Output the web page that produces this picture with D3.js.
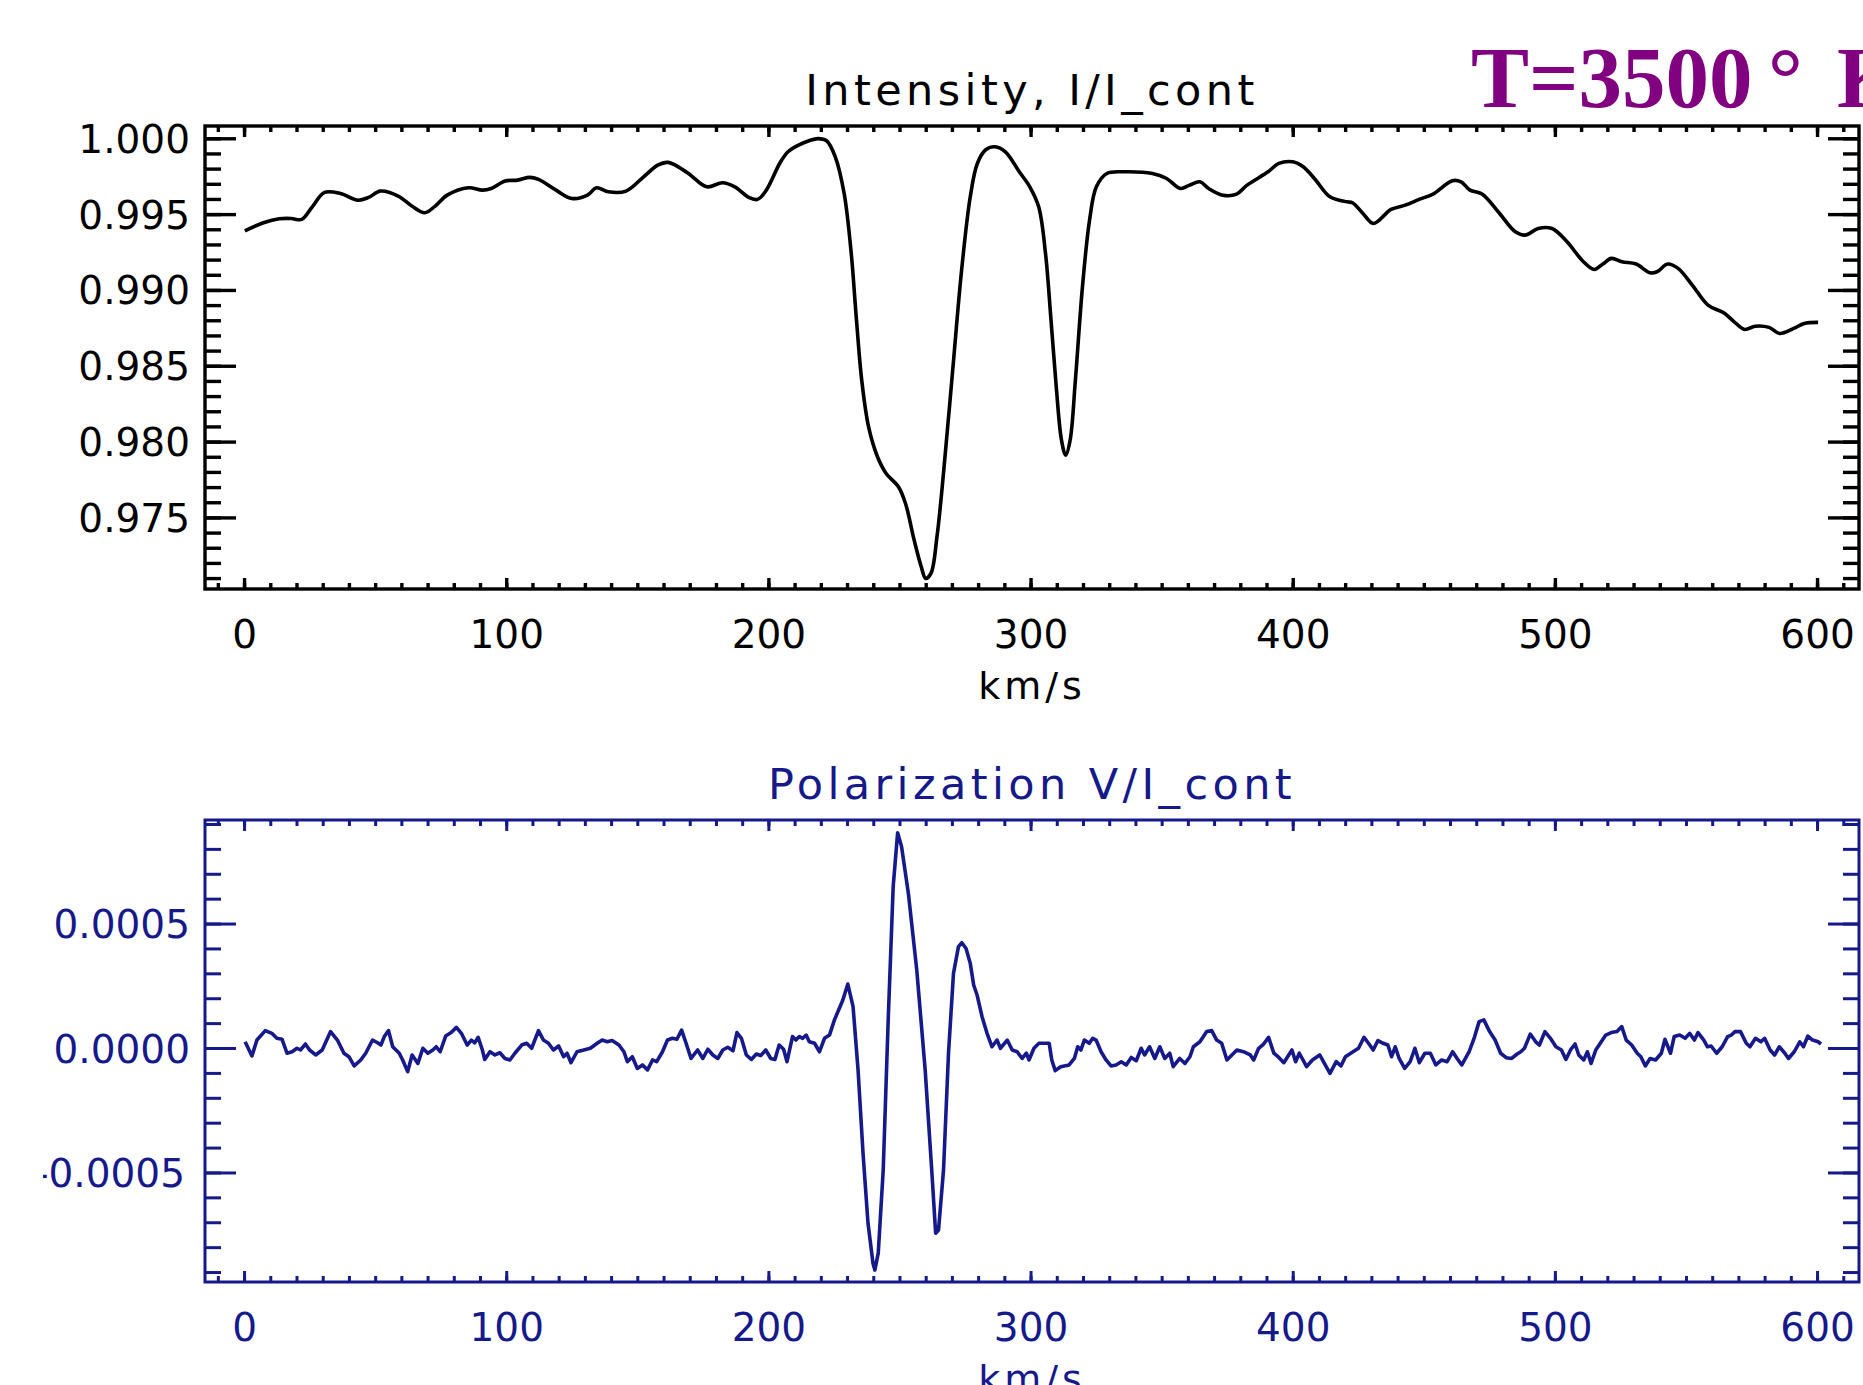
<!DOCTYPE html>
<html>
<head>
<meta charset="utf-8">
<script src="https://cdn.jsdelivr.net/npm/d3@7"></script>
<style>
  html, body { margin: 0; padding: 0; background: #fff; }
  svg { display: block; }
</style>
</head>
<body>
<div id="chart"></div>
<script>
// Intensity profile, I/I_cont against velocity (km/s)
const intensityKms = [
  0.3, 7.4, 13.4, 18, 22, 26, 30.7, 36.8, 43.4, 47.5, 52, 58.8, 64, 68.9, 72.9, 77.5,
  85.6, 90.9, 94.3, 99.6, 104.3, 109, 112.3, 119, 125, 131, 134.4, 139, 145.7, 152.4,
  157.8, 161.8, 169.1, 176.5, 182.5, 187.2, 192.5, 195.9, 199.2, 204.5, 207.5, 211.5,
  215.5, 218.9, 222.2, 225.5, 228.9, 231.6, 233.6, 235.6, 238.2, 241.6, 244.9, 249.6,
  252.3, 255.6, 258.3, 260, 262, 264.3, 266.9, 270.3, 273.7, 277, 279.7, 283, 286.4,
  290.4, 295.7, 299.7, 303.1, 305.7, 307.8, 309.8, 311.8, 313.4, 315.1, 317.1, 319.8,
  322.5, 325.1, 329.1, 335.8, 346.5, 351.9, 357.2, 360.6, 364.6, 367.9, 373.3, 378.6,
  382.6, 390.6, 394.7, 400, 404, 408.5, 414.2, 420.8, 422.8, 426.8, 430.8, 437.5,
  442.9, 448.2, 453.5, 460.9, 464.2, 467.6, 472.2, 478.9, 484.9, 488.9, 493.6, 498.9,
  504.3, 510.9, 515, 518.3, 521.6, 525.6, 531, 536.3, 539, 543, 547, 552.4, 558.4,
  564.4, 568.4, 572.4, 576.4, 581.7, 585.7, 591.1, 595.1, 600.4
];
const intensity = [
  0.99390, 0.99443, 0.99469, 0.99471, 0.99465, 0.99548, 0.99643, 0.99636, 0.99592, 0.99610,
  0.99652, 0.99619, 0.99553, 0.99509, 0.99553, 0.99625, 0.99674, 0.99658, 0.99669, 0.99718,
  0.99724, 0.99742, 0.99729, 0.99658, 0.99603, 0.99625, 0.99674, 0.99647, 0.99652, 0.99746,
  0.99823, 0.99841, 0.99773, 0.99680, 0.99707, 0.99680, 0.99610, 0.99597, 0.99658, 0.99840,
  0.99911, 0.99955, 0.99984, 0.99998, 0.99984, 0.99878, 0.99636, 0.99241, 0.98801, 0.98405,
  0.98098, 0.97900, 0.97790, 0.97702, 0.97592, 0.97350, 0.97175, 0.97098, 0.97131, 0.97372,
  0.97812, 0.98471, 0.99131, 0.99614, 0.99834, 0.99926, 0.99944, 0.99911, 0.99779, 0.99680,
  0.99548, 0.99241, 0.98801, 0.98361, 0.98010, 0.97911, 0.98010, 0.98405, 0.99021, 0.99460,
  0.99680, 0.99768, 0.99779, 0.99768, 0.99735, 0.99669, 0.99691, 0.99713, 0.99669, 0.99625,
  0.99632, 0.99691, 0.99779, 0.99834, 0.99845, 0.99812, 0.99730, 0.99614, 0.99581, 0.99575,
  0.99504, 0.99438, 0.99531, 0.99559, 0.99597, 0.99632, 0.99720, 0.99713, 0.99658, 0.99632,
  0.99504, 0.99384, 0.99362, 0.99405, 0.99405, 0.99324, 0.99186, 0.99135, 0.99171, 0.99208,
  0.99186, 0.99171, 0.99113, 0.99120, 0.99171, 0.99142, 0.99032, 0.98900, 0.98849, 0.98790,
  0.98739, 0.98761, 0.98753, 0.98713, 0.98746, 0.98779, 0.98786
];

// Circular polarization profile, V/I_cont
const polarKms = [
  0.4, 3.0, 4.9, 8.1, 10.6, 12.5, 14.5, 16.4, 18.3, 20.2, 21.5, 23.4, 25.0, 27.3, 29.8,
  33.0, 35.6, 38.1, 40.0, 42.0, 44.5, 46.4, 49.0, 50.9, 52.2, 53.5, 55.1, 56.7, 59.2,
  60.5, 62.4, 64.1, 66.3, 68.2, 70.1, 72.0, 73.3, 74.8, 76.9, 79.0, 81.0, 82.9, 85.1,
  86.7, 88.0, 89.3, 90.9, 91.8, 93.8, 95.7, 97.6, 99.5, 101.4, 103.3, 105.9, 107.8,
  109.7, 112.3, 114.2, 116.1, 118.0, 120.0, 121.9, 123.2, 124.7, 127.0, 129.6, 132.1,
  134.7, 136.6, 138.5, 140.4, 143.0, 144.9, 146.2, 148.1, 150.0, 152.0, 153.9, 155.8,
  157.4, 159.6, 161.5, 163.4, 165.1, 166.9, 168.6, 170.5, 173.0, 175.0, 176.9, 178.8,
  180.7, 182.6, 184.5, 186.5, 188.0, 189.7, 191.6, 193.5, 195.4, 197.1, 199.0, 200.9,
  202.5, 204.1, 205.8, 207.1, 209.2, 210.5, 211.8, 213.1, 214.4, 215.6, 217.6, 219.5,
  221.4, 223.3, 225.2, 228.4, 230.3, 232.3, 234.2, 236.1, 238.0, 239.9, 240.6, 241.9,
  243.8, 245.7, 247.6, 249.3, 250.8, 253.4, 256.6, 259.8, 262.3, 263.8, 264.9, 266.8,
  268.7, 270.6, 272.5, 273.8, 275.4, 277.0, 278.3, 279.6, 281.5, 283.4, 285.3, 287.2,
  288.5, 291.1, 293.0, 294.9, 296.8, 298.4, 299.4, 301.3, 303.2, 305.2, 307.1, 308.1,
  309.4, 311.5, 314.7, 316.7, 318.0, 319.2, 320.5, 322.4, 323.7, 325.0, 326.9, 328.8,
  330.7, 332.6, 334.6, 336.5, 338.4, 340.3, 342.2, 343.5, 345.4, 347.4, 349.3, 351.2,
  353.1, 354.4, 356.9, 358.9, 360.8, 362.1, 364.6, 367.2, 369.1, 371.0, 372.9, 374.9,
  376.8, 378.7, 381.2, 383.8, 385.1, 387.0, 388.9, 390.8, 392.8, 394.7, 396.6, 399.7,
  401.1, 402.5, 403.9, 405.3, 407.5, 410.3, 412.4, 414.2, 416.6, 418.4, 420.1, 423.0,
  425.1, 427.2, 428.9, 430.7, 432.5, 434.5, 436.3, 437.7, 439.1, 440.6, 442.7, 444.8,
  446.6, 448.3, 450.4, 452.5, 454.6, 456.8, 458.9, 461.0, 462.7, 464.5, 467.3, 469.4,
  471.1, 472.9, 475.1, 477.2, 479.3, 481.4, 483.5, 485.6, 487.0, 488.4, 490.6, 492.7,
  494.1, 496.2, 498.3, 500.4, 502.5, 504.2, 506.1, 507.7, 509.1, 511.0, 512.4, 513.8,
  515.6, 517.3, 519.4, 521.5, 523.7, 525.5, 527.2, 529.3, 531.4, 532.8, 534.5, 536.3,
  538.4, 540.6, 542.0, 544.1, 545.5, 547.6, 549.7, 551.4, 553.2, 554.6, 556.8, 558.2,
  559.6, 561.7, 563.8, 565.9, 567.3, 568.7, 570.8, 573.0, 574.4, 576.5, 578.6, 580.0,
  582.1, 583.8, 585.6, 587.7, 589.1, 591.3, 593.4, 594.8, 596.5, 598.3, 600.4, 601.5
];
const polar = [
  0.000025, -0.000032, 0.000032, 0.000070, 0.000059, 0.000039, 0.000035, -0.000021, -0.000015,
  -0.000001, -0.000008, 0.000016, -0.000008, -0.000028, -0.000008, 0.000066, 0.000032, -0.000021,
  -0.000035, -0.000072, -0.000048, -0.000021, 0.000032, 0.000021, 0.000012, 0.000046, 0.000070,
  0.000005, -0.000021, -0.000048, -0.000095, -0.000028, -0.000062, -0.000001, -0.000021, -0.000008,
  0.000005, -0.000015, 0.000048, 0.000062, 0.000083, 0.000059, 0.000012, 0.000032, 0.000021,
  0.000043, -0.000008, -0.000046, -0.000015, -0.000028, -0.000019, -0.000042, -0.000048, -0.000021,
  0.000012, 0.000019, -0.000001, 0.000070, 0.000032, 0.000019, -0.000008, 0.000008, -0.000035,
  -0.000021, -0.000059, -0.000015, -0.000008, -0.000001, 0.000019, 0.000032, 0.000025, 0.000030,
  0.000012, -0.000015, -0.000055, -0.000035, -0.000082, -0.000068, -0.000088, -0.000048, -0.000055,
  -0.000015, 0.000032, 0.000039, 0.000035, 0.000072, 0.000019, -0.000042, -0.000008, -0.000042,
  -0.000005, -0.000028, -0.000042, -0.000008, 0.000003, -0.000011, 0.000062, 0.000039, -0.000028,
  -0.000046, -0.000024, -0.000030, -0.000008, -0.000042, -0.000046, 0.000012, -0.000005, -0.000055,
  0.000046, 0.000032, 0.000046, 0.000039, 0.000052, 0.000025, 0.000019, -0.000015, 0.000039,
  0.000052, 0.000113, 0.000193, 0.000257, 0.000166, -0.000088, -0.000423, -0.000704, -0.000865,
  -0.000892, -0.000824, -0.000490, 0.000113, 0.000648, 0.000865, 0.000809, 0.000621, 0.000313,
  -0.000088, -0.000490, -0.000744, -0.000731, -0.000490, -0.000021, 0.000300, 0.000407, 0.000423,
  0.000400, 0.000340, 0.000253, 0.000213, 0.000126, 0.000059, 0.000005, 0.000032, -0.000001,
  0.000032, -0.000008, -0.000015, -0.000042, -0.000021, -0.000048, -0.000001, 0.000019, 0.000019,
  0.000019, -0.000048, -0.000091, -0.000075, -0.000068, -0.000042, 0.000005, -0.000008, 0.000032,
  0.000019, 0.000039, 0.000032, -0.000015, -0.000048, -0.000072, -0.000068, -0.000055, -0.000068,
  -0.000038, -0.000051, -0.000001, -0.000028, 0.000005, -0.000042, 0.000005, -0.000042, -0.000021,
  -0.000075, -0.000042, -0.000062, -0.000035, 0.000005, 0.000025, 0.000066, 0.000070, 0.000032,
  0.000019, -0.000048, -0.000028, -0.000008, -0.000015, -0.000028, -0.000048, -0.000001, 0.000016,
  0.000043, -0.000021, -0.000038, -0.000059, -0.000008, -0.000055, -0.000021, -0.000048, -0.000075,
  -0.000048, -0.000028, -0.000068, -0.000102, -0.000055, -0.000072, -0.000035, -0.000015, -0.000001,
  0.000043, 0.000019, -0.000008, 0.000030, 0.000019, 0.000012, -0.000035, 0.000005, -0.000042,
  -0.000082, -0.000055, -0.000001, -0.000059, -0.000021, -0.000021, -0.000068, -0.000048, -0.000055,
  -0.000015, -0.000042, -0.000068, -0.000015, 0.000046, 0.000106, 0.000113, 0.000066, 0.000032,
  -0.000021, -0.000039, -0.000042, -0.000024, -0.000015, -0.000001, 0.000056, 0.000025, 0.000012,
  0.000066, 0.000039, 0.000005, -0.000008, -0.000046, -0.000005, 0.000016, -0.000028, -0.000048,
  -0.000015, -0.000062, -0.000008, 0.000019, 0.000052, 0.000062, 0.000066, 0.000086, 0.000032,
  0.000012, -0.000021, -0.000035, -0.000072, -0.000042, -0.000048, -0.000021, 0.000035, -0.000021,
  0.000046, 0.000052, 0.000039, 0.000059, 0.000032, 0.000062, 0.000032, 0.000005, 0.000008,
  -0.000021, 0.000005, 0.000046, 0.000052, 0.000066, 0.000066, 0.000019, 0.000005, 0.000039,
  0.000025, 0.000039, -0.000008, -0.000028, 0.000005, -0.000021, -0.000042, -0.000015, 0.000025,
  0.000005, 0.000048, 0.000032, 0.000025, 0.000016
];

// Tick values and labels
const kmsTicks = [0, 100, 200, 300, 400, 500, 600];
const intensityTicks = [0.975, 0.980, 0.985, 0.990, 0.995, 1.000];
const polarTicks = [-0.0005, 0.0000, 0.0005];
const kmsLabel = "km/s";
const intensityTitle = "Intensity, I/I_cont";
const polarTitle = "Polarization V/I_cont";

const width = 1863;
const height = 1385;
const left = 205, right = 1859;
const fontFamily = "'DejaVu Sans', sans-serif";

const svg = d3.select("#chart")
  .append("svg")
  .attr("width", width)
  .attr("height", height);

// the original figure is cropped at the left, cutting through the minus sign
svg.append("defs").append("clipPath").attr("id", "crop")
  .append("rect").attr("x", 43).attr("y", 0).attr("width", width - 43).attr("height", height);

const root = svg.append("g").attr("clip-path", "url(#crop)");

const x = d3.scaleLinear().domain([-14.9, 616]).range([left, right]);
const kmsMinor = d3.range(-10, 611, 10);
const hyphenLocale = d3.formatLocale({ decimal: ".", thousands: ",", grouping: [3], currency: ["", ""], minus: "-" });

function addAxis(g, axis, transform, values, len, fmt, pad, lw) {
  const a = g.append("g")
    .attr("transform", transform)
    .call(axis.tickValues(values).tickSizeInner(-len).tickSizeOuter(0)
      .tickFormat(fmt || (() => "")).tickPadding(pad || 0));
  a.select(".domain").remove();
  a.attr("font-family", fontFamily).attr("font-size", 39);
  a.selectAll(".tick line").attr("stroke-width", lw);
  return a;
}

function drawPanel(cfg) {
  const y = d3.scaleLinear().domain(cfg.yDomain).range([cfg.bottom, cfg.top]);
  const g = root.append("g").style("color", cfg.color);

  // box-style axes with inward ticks on all four sides
  const xAxes = [
    [d3.axisBottom, `translate(0,${cfg.bottom})`, true],
    [d3.axisTop, `translate(0,${cfg.top})`, false]
  ];
  xAxes.forEach(([fn, tr, labels]) => {
    addAxis(g, fn(x), tr, kmsMinor, 6, null, 0, cfg.lw);
    addAxis(g, fn(x), tr, kmsTicks, 11, labels ? d3.format("d") : null, 31, cfg.lw);
  });

  const yAxes = [
    [d3.axisLeft, `translate(${left},0)`, true],
    [d3.axisRight, `translate(${right},0)`, false]
  ];
  yAxes.forEach(([fn, tr, labels]) => {
    addAxis(g, fn(y), tr, cfg.minor, 16, null, 0, cfg.lw);
    const a = addAxis(g, fn(y), tr, cfg.ticks, 31, labels ? cfg.fmt : null, 15, cfg.lw);
    a.selectAll(".tick text")
      .attr("dy", "0.36em")
      .attr("dx", d => (d < 0 ? -5 : 0));
  });

  g.append("rect")
    .attr("x", left).attr("y", cfg.top)
    .attr("width", right - left).attr("height", cfg.bottom - cfg.top)
    .attr("fill", "none")
    .attr("stroke", cfg.color)
    .attr("stroke-width", cfg.lw);

  const line = d3.line()
    .x(i => x(cfg.xs[i]))
    .y(i => y(cfg.ys[i]))
    .curve(cfg.curve);

  g.append("path")
    .datum(d3.range(cfg.xs.length))
    .attr("fill", "none")
    .attr("stroke", cfg.color)
    .attr("stroke-width", 3.6)
    .attr("stroke-linejoin", "round")
    .attr("d", line);

  g.append("text")
    .attr("x", (left + right) / 2)
    .attr("y", cfg.top - 21)
    .attr("text-anchor", "middle")
    .attr("font-family", fontFamily)
    .attr("font-size", 43)
    .attr("letter-spacing", 4.4)
    .attr("fill", cfg.color)
    .text(cfg.title);

  g.append("text")
    .attr("x", (left + right) / 2)
    .attr("y", cfg.bottom + 110)
    .attr("text-anchor", "middle")
    .attr("font-family", fontFamily)
    .attr("font-size", 38)
    .attr("letter-spacing", 4)
    .attr("fill", cfg.color)
    .text(kmsLabel);
}

drawPanel({
  top: 126, bottom: 589,
  yDomain: [0.97028, 1.00081],
  ticks: intensityTicks,
  minor: d3.range(0.971, 1.0005, 0.001),
  fmt: d3.format(".3f"),
  xs: intensityKms, ys: intensity,
  color: "#000000", lw: 3.4,
  curve: d3.curveCatmullRom.alpha(0.5),
  title: intensityTitle
});

drawPanel({
  top: 820, bottom: 1282,
  yDomain: [-0.00094, 0.000916],
  ticks: polarTicks,
  minor: d3.range(-0.0009, 0.00095, 0.0001),
  fmt: hyphenLocale.format(".4f"),
  xs: polarKms, ys: polar,
  color: "#16198a", lw: 3,
  curve: d3.curveLinear,
  title: polarTitle
});

// temperature annotation, cut by the right edge as in the source slide
const temp = root.append("text")
  .attr("y", 107)
  .attr("font-family", "'Liberation Serif', 'Times New Roman', serif")
  .attr("font-weight", "bold")
  .attr("font-size", 87)
  .attr("fill", "#800080");
temp.append("tspan").attr("x", 1471).text("T=3500");
temp.append("tspan").attr("x", 1768).text("°");
temp.append("tspan").attr("x", 1837).text("K");
</script>
</body>
</html>
